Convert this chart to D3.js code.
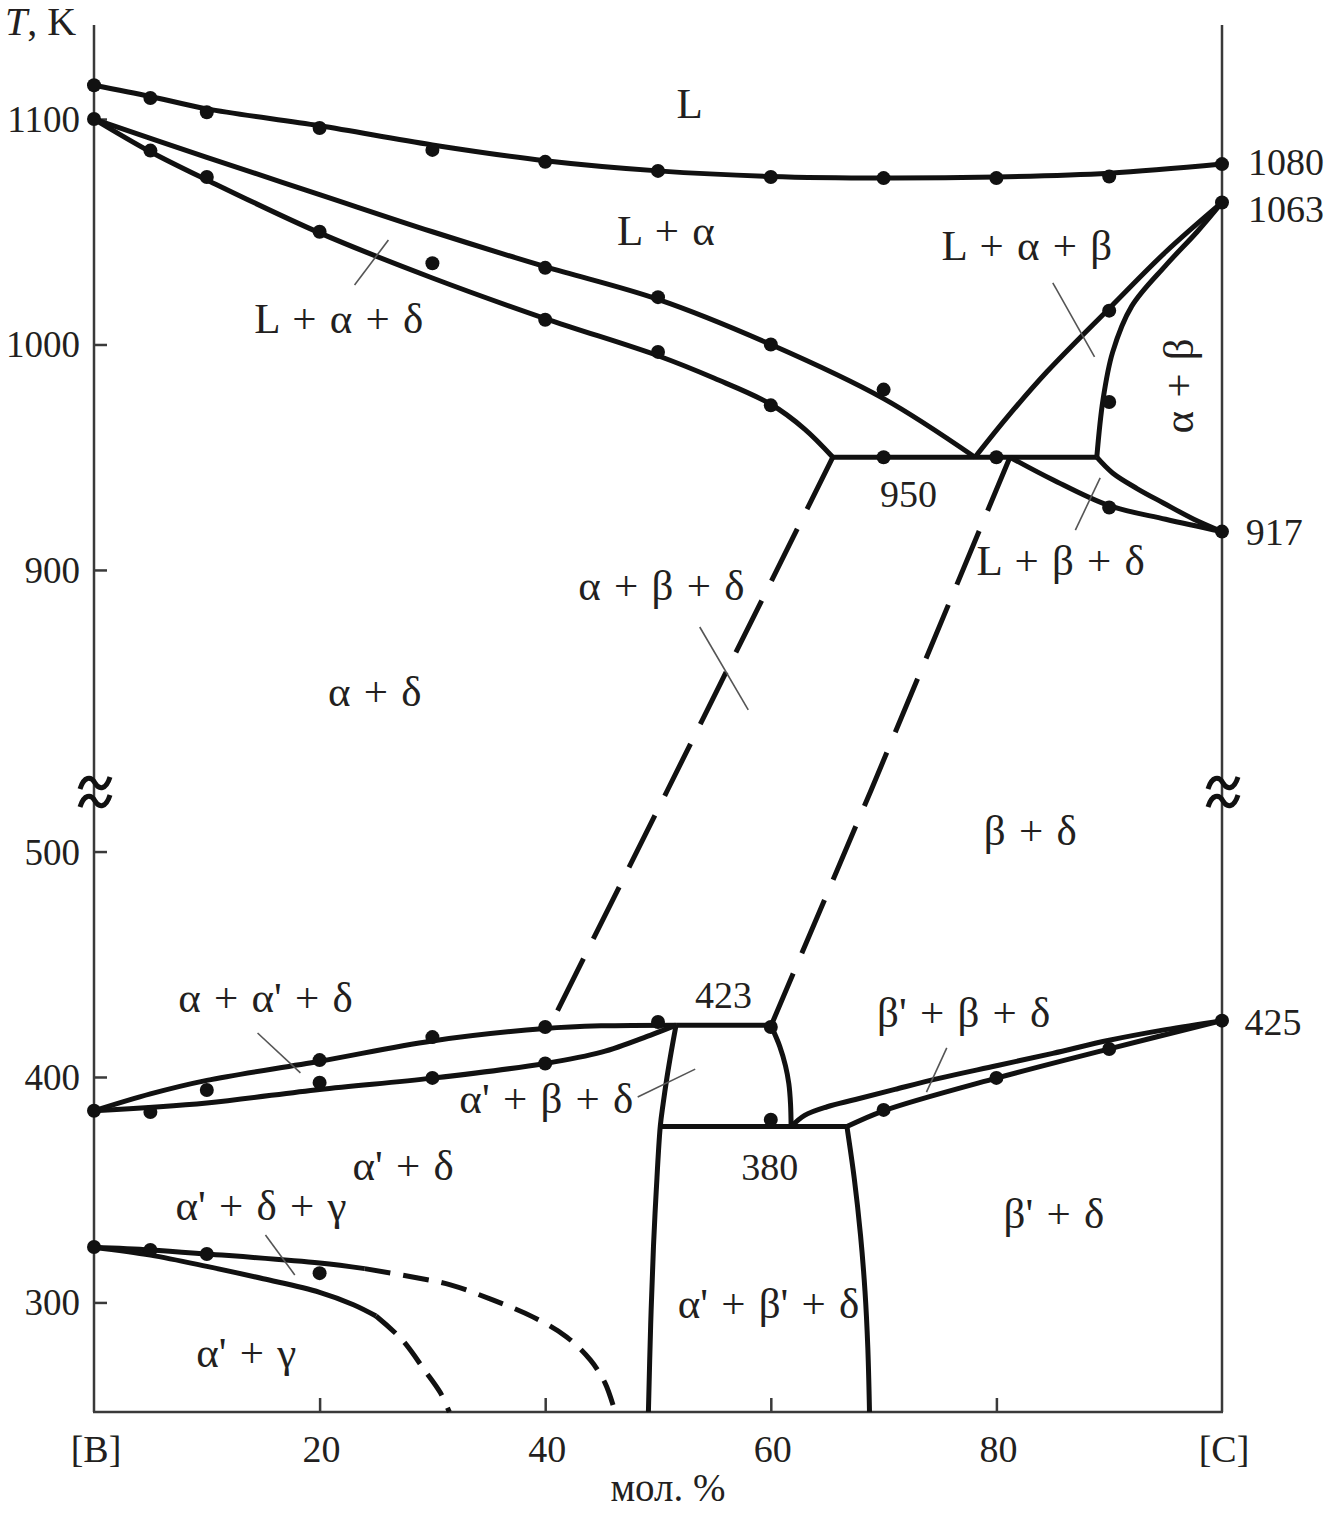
<!DOCTYPE html>
<html><head><meta charset="utf-8">
<script src="https://cdn.jsdelivr.net/npm/d3@7"></script>
<style>
body{margin:0;background:#fff}
svg{display:block}
text{font-family:"Liberation Serif","Times New Roman",serif;fill:#231f20}
</style>
</head><body>
<svg id="chart" width="1326" height="1514"></svg>
<script>
// ---------------- data (x = mol.% C, T in K) ----------------
const xTicks = [0, 20, 40, 60, 80, 100];
const xTickLabels = ["[B]", "20", "40", "60", "80", "[C]"];
const yTicks = [300, 400, 500, 900, 1000, 1100];
const yDomain = [251.4, 527.3, 802.4, 1141.7];   // lower segment bottom/top, upper segment bottom/top

const liquidus = [[0,1115],[5,1110],[10,1104.5],[20,1097],[30,1088.5],[40,1081.5],[50,1077],[60,1074.5],[70,1073.8],[80,1074.3],[90,1076],[100,1080]];
const lAlphaLower = [[0,1100],[10,1083],[20,1066.5],[30,1050],[40,1034.5],[50,1020],[60,1000],[70,976],[78.1,950]];
const solidusDelta = [[0,1100],[5,1085.5],[10,1073],[20,1049.5],[30,1029.5],[40,1011.5],[50,995],[55,985],[60,973.5],[63,962.5],[65.5,950]];
const line950 = [[65.5,950],[88.9,950]];
const lAlphaBeta = [[78.1,950],[81,968],[84.5,988],[90,1016],[95,1041],[100,1063]];
const alphaBetaInner = [[100,1063],[97.8,1050],[95,1035],[92,1017],[90.3,996.5],[89.45,975.4],[88.9,950]];
const lBetaDelta = [[81.2,950],[85,940],[90,928.5],[95,922.5],[100,917]];
const alphaBetaLower = [[88.9,950],[90.3,943],[92.5,936],[94.8,929.7],[97.5,922.5],[100,917]];
const dashLeft = [[65.5,950],[50.85,802.4],[50.85,527.3],[40.4,422.5]];
const dashRight = [[81.2,950],[68.9,802.4],[68.9,527.3],[60,422.5]];

const aaUpper = [[0,385],[5,392.5],[10,398.5],[20,407],[30,416],[40,421.5],[45,422.7],[51.6,423]];
const aaLower = [[0,385],[10,388.5],[20,394.5],[30,399.5],[40,406],[45,411],[49.3,418.5],[51.6,423]];
const line423 = [[51.6,423],[60,423]];
const right423 = [[60,423],[60.8,413.5],[61.3,405],[61.6,397],[61.75,388],[61.8,378]];
const leftAlphaPrime = [[51.6,423],[51.2,412],[50.8,400],[50.45,388],[50.2,378],[49.85,350],[49.6,325],[49.35,290],[49.15,251.4]];
const line378 = [[50.2,378],[66.75,378]];
const rightBetaPrime = [[66.75,378],[67.4,355],[67.95,330],[68.35,305],[68.6,280],[68.75,251.4]];
const bpUpper = [[61.8,378],[63,383],[65,386.8],[67.5,390],[71,394.5],[75,399.5],[80,405],[85,410.5],[90,416.3],[95,421],[100,425]];
const bpLower = [[66.75,378],[70,385],[80,399.5],[90,412.5],[100,425]];

const gUpperSolid = [[0,324.5],[5,323.3],[10,321.5],[20,317.5],[24,315]];
const gUpperDash = [[24,315],[28,311.5],[31.6,307.8],[35.4,301],[38.9,293.6],[41.9,284.7],[44,274.5],[45.3,264.3],[46.2,251.4]];
const gLowerSolid = [[0,324.5],[5,321],[10,316],[15,310.5],[20,304.5],[23,299],[25,294]];
const gLowerDash = [[25,294],[27.3,283.5],[29.3,270],[30.7,260],[31.5,251.4]];

const dotsHigh = [[0,1115],[5,1109.3],[10,1103],[20,1096],[30,1086.3],[40,1081],[50,1077],[60,1074.3],[70,1073.8],[80,1073.8],[90,1074.5],[100,1080],
  [0,1100],[5,1086],[10,1074.3],[20,1050],[30,1036],[40,1011],[50,996.7],[60,973],
  [40,1034],[50,1021],[60,1000],[70,980],[70,950],[80,950],
  [90,1015],[90,974.5],[90,927.7],[100,1063],[100,917]];
const dotsLow = [[0,385],[5,384.5],[10,394.2],[20,397.5],[30,399.6],[40,406],
  [20,407.5],[30,417.7],[40,422.2],[50,424.4],[60,422.2],[60,381],
  [70,385.4],[80,399.6],[90,412.4],[100,425],
  [0,324.6],[5,323.3],[10,321.5],[20,313]];

const regionLabels = [
  ["L",52.8,1100.4],["L + α",50.7,1044.1],["L + α + δ",21.7,1005.1],["L + α + β",82.7,1037.5],
  ["L + β + δ",85.7,897.8],["950",72.2,927.9],["α + β + δ",50.3,886.7],["α + δ",24.9,839.7],
  ["β + δ",83.0,502.9],["α + α' + δ",15.2,428.8],["423",55.8,430.6],["β' + β + δ",77.1,422.2],
  ["α' + β + δ",40.1,384.0],["α' + δ",27.4,354.3],["380",59.9,354.3],["α' + δ + γ",14.8,336.6],
  ["β' + δ",85.1,333.0],["α' + β' + δ",59.8,293.1],["α' + γ",13.5,271.4]
];
const numberLabels = ["950","423","380"];
const rotatedLabel = ["α + β",97.4,981.6];
const rightLabels = [["1080",102.3,1075.2],["1063",102.3,1054.3],["917",102.1,911.1],["425",102.0,418.6]];
const leaders = [
  [[23.1,1026.4],[26.1,1046.3]], [[85.0,1027.3],[88.7,994.5]], [[89.2,940.8],[87.0,917.7]],
  [[53.7,874.7],[58.0,837.9]], [[14.5,419.5],[18.3,401.8]], [[75.6,412.9],[73.8,393.3]],
  [[48.2,391.1],[53.3,403.5]], [[15.2,329.9],[17.8,312.2]]
];

// ---------------- drawing ----------------
const svg = d3.select("#chart");
const x = d3.scaleLinear().domain([0,100]).range([94,1222]);
const y = d3.scaleLinear().domain(yDomain).range([1412,790,790,25]);

const curve = d3.line().x(d=>x(d[0])).y(d=>y(d[1])).curve(d3.curveCatmullRom.alpha(0.5));
const straight = d3.line().x(d=>x(d[0])).y(d=>y(d[1]));
const ink = "#111";

// axes
const axisColor = "#3a3a3a";
svg.append("line").attr("x1",x(0)).attr("x2",x(0)).attr("y1",y(yDomain[3])).attr("y2",y(yDomain[0])).attr("stroke",axisColor).attr("stroke-width",2.5);
svg.append("line").attr("x1",x(100)).attr("x2",x(100)).attr("y1",y(yDomain[3])).attr("y2",y(yDomain[0])).attr("stroke",axisColor).attr("stroke-width",2.5);
svg.append("line").attr("x1",x(0)-1).attr("x2",x(100)+1).attr("y1",y(yDomain[0])).attr("y2",y(yDomain[0])).attr("stroke",axisColor).attr("stroke-width",2.5);

const yAxis = d3.axisRight(y).tickValues(yTicks).tickSize(13).tickFormat("");
const ga = svg.append("g").attr("transform",`translate(${x(0)},0)`).call(yAxis);
ga.select(".domain").remove();
ga.selectAll("line").attr("stroke",axisColor).attr("stroke-width",2.5);
svg.selectAll(".ylab").data(yTicks).enter().append("text")
  .attr("x",80).attr("y",d=>y(d)+13).attr("text-anchor","end").attr("font-size",37).text(d=>d);

const xAxis = d3.axisTop(x).tickValues(xTicks.slice(1,-1)).tickSize(14).tickFormat("");
const gx = svg.append("g").attr("transform",`translate(0,${y(yDomain[0])})`).call(xAxis);
gx.select(".domain").remove();
gx.selectAll("line").attr("stroke",axisColor).attr("stroke-width",2.5);
svg.selectAll(".xlab").data(xTicks).enter().append("text")
  .attr("x",d=>x(d)+2).attr("y",1462).attr("text-anchor","middle").attr("font-size",38)
  .text((d,i)=>xTickLabels[i]);
svg.append("text").attr("x",668).attr("y",1501).attr("text-anchor","middle").attr("font-size",39).text("мол. %");
const tl = svg.append("text").attr("x",5).attr("y",35).attr("font-size",40);
tl.append("tspan").attr("font-style","italic").text("T");
tl.append("tspan").text(", K");

// axis breaks
const tilde = "M-15,6 C-11,-7 -4,-7 0,0 C4,7 11,7 15,-6";
[0,100].forEach(v=>{
  const g = svg.append("g").attr("transform",`translate(${x(v)+1},${y(yDomain[1])+2})`);
  [-9,9].forEach(o=>g.append("path").attr("d",tilde).attr("transform",`translate(0,${o})`)
    .attr("fill","none").attr("stroke",ink).attr("stroke-width",5));
});

// phase boundaries
const solid = [liquidus,lAlphaLower,solidusDelta,line950,lAlphaBeta,alphaBetaInner,lBetaDelta,alphaBetaLower,
  aaUpper,aaLower,line423,right423,leftAlphaPrime,line378,rightBetaPrime,bpUpper,bpLower,gUpperSolid,gLowerSolid];
solid.forEach(d=>{
  const gen = d.length===2 ? straight : curve;
  svg.append("path").attr("d",gen(d)).attr("fill","none").attr("stroke",ink).attr("stroke-width",5).attr("stroke-linejoin","round");
});
[dashLeft,dashRight].forEach(d=>{
  svg.append("path").attr("d",straight(d)).attr("fill","none").attr("stroke",ink).attr("stroke-width",5).attr("stroke-dasharray","58,22");
});
[gUpperDash,gLowerDash].forEach(d=>{
  svg.append("path").attr("d",curve(d)).attr("fill","none").attr("stroke",ink).attr("stroke-width",5).attr("stroke-dasharray","26,13");
});

// leaders
leaders.forEach(d=>{
  svg.append("path").attr("d",straight(d)).attr("stroke","#555").attr("stroke-width",1.6).attr("fill","none");
});

// data points
svg.selectAll(".dot").data(dotsHigh.concat(dotsLow)).enter().append("circle")
  .attr("cx",d=>x(d[0])).attr("cy",d=>y(d[1])).attr("r",7).attr("fill",ink);

// labels
svg.selectAll(".rl").data(regionLabels).enter().append("text")
  .attr("x",d=>x(d[1])).attr("y",d=>y(d[2])).attr("text-anchor","middle")
  .attr("font-size",d=>numberLabels.includes(d[0]) ? 38 : 43)
  .attr("word-spacing",d=>numberLabels.includes(d[0]) ? 0 : 2.5)
  .text(d=>d[0]);
svg.append("text").attr("transform",`translate(${x(rotatedLabel[1])},${y(rotatedLabel[2])}) rotate(-90)`)
  .attr("text-anchor","middle").attr("font-size",43).attr("word-spacing",2.5).text(rotatedLabel[0]);
svg.selectAll(".rv").data(rightLabels).enter().append("text")
  .attr("x",d=>x(d[1])).attr("y",d=>y(d[2])).attr("font-size",38).text(d=>d[0]);
</script>
</body></html>
